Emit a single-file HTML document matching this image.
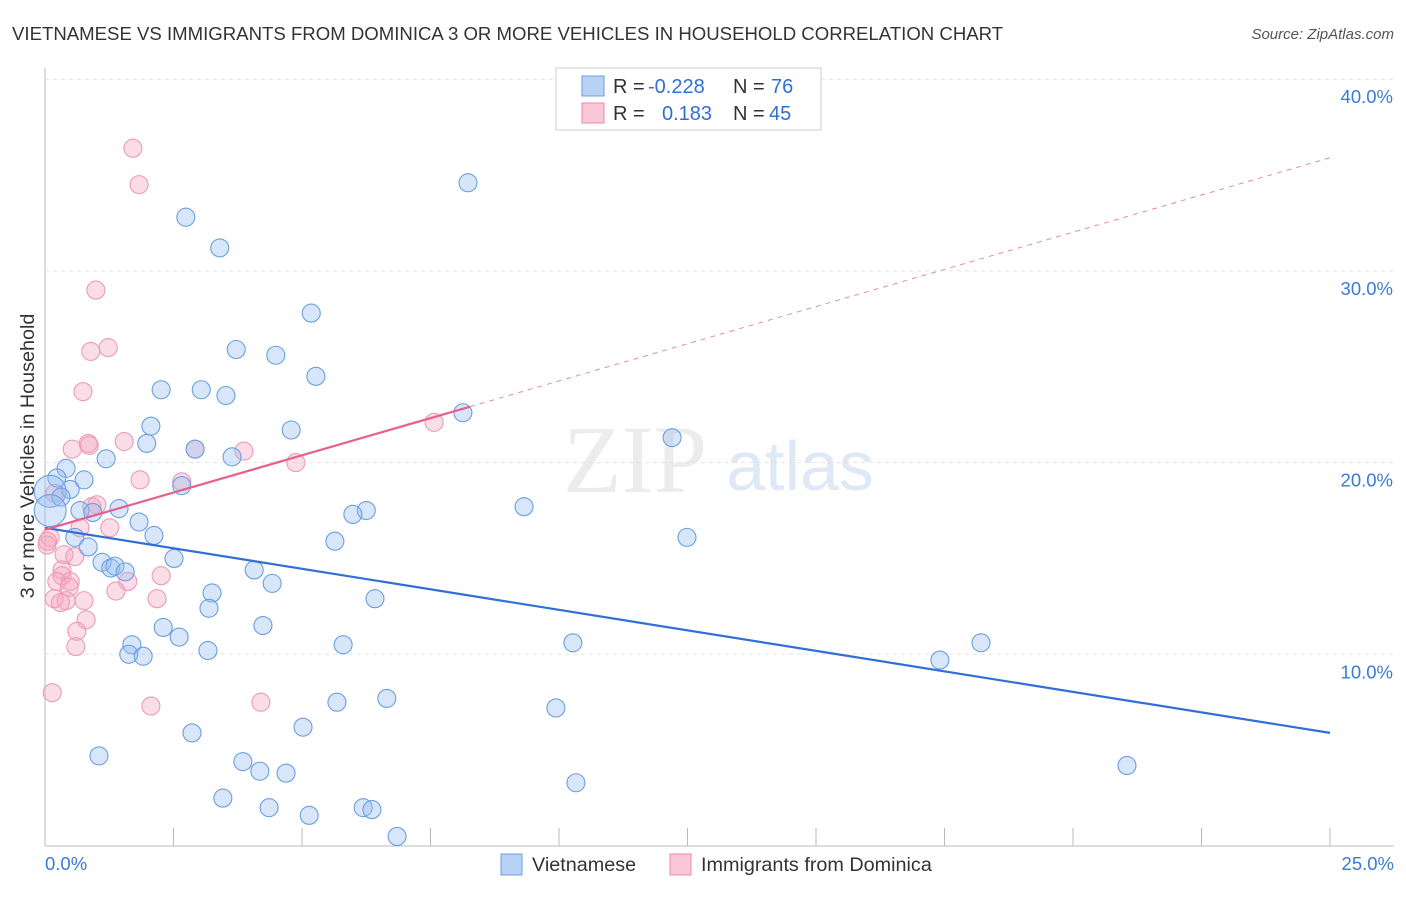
<!DOCTYPE html>
<html><head><meta charset="utf-8"><style>
body{margin:0;background:#fff;font-family:"Liberation Sans",sans-serif}
</style></head><body>
<svg id="c" width="1406" height="892" xmlns="http://www.w3.org/2000/svg">
<text x="12" y="40" font-size="18.6" fill="#333">VIETNAMESE VS IMMIGRANTS FROM DOMINICA 3 OR MORE VEHICLES IN HOUSEHOLD CORRELATION CHART</text>
<text x="1394" y="39" font-size="15" fill="#555" font-style="italic" text-anchor="end">Source: ZipAtlas.com</text>
<text x="635" y="492" font-size="96" fill="#ececec" font-family="Liberation Serif,serif" text-anchor="middle">ZIP</text>
<text x="800" y="490" font-size="70" fill="#dfe9f6" text-anchor="middle">atlas</text>
<text transform="translate(34,456) rotate(-90)" font-size="19.8" fill="#333" text-anchor="middle">3 or more Vehicles in Household</text>
<g id="grid"></g><g id="pts"></g><g id="trend"></g>
<rect x="556" y="68" width="265" height="62" fill="#fff" stroke="#ccc"/>
<rect x="582" y="76" width="22" height="20" fill="#b8d2f5" stroke="#6a9fe0"/>
<rect x="582" y="103" width="22" height="20" fill="#f9c7d7" stroke="#e88aaa"/>
<text font-size="20" fill="#333"><tspan x="613" y="93">R =</tspan><tspan x="648" fill="#2f6fd6">-0.228</tspan><tspan x="733">N =</tspan><tspan x="771" fill="#2f6fd6">76</tspan></text>
<text font-size="20" fill="#333"><tspan x="613" y="120">R =</tspan><tspan x="662" fill="#2f6fd6">0.183</tspan><tspan x="733">N =</tspan><tspan x="769" fill="#2f6fd6">45</tspan></text>
<rect x="501" y="854" width="21" height="21" fill="#b8d2f5" stroke="#6a9fe0"/>
<text x="532" y="871" font-size="19.8" fill="#333">Vietnamese</text>
<rect x="670" y="854" width="21" height="21" fill="#f9c7d7" stroke="#e88aaa"/>
<text x="701" y="871" font-size="19.8" fill="#333">Immigrants from Dominica</text>
<text x="45" y="870" font-size="18.5" fill="#3a7bd5">0.0%</text>
<text x="1394" y="870" font-size="18.5" fill="#3a7bd5" text-anchor="end">25.0%</text>
</svg>
<script>
const yTicks=[10,20,30,40];
const yTickLabels=["10.0%","20.0%","30.0%","40.0%"];
const xTicks=[0,2.5,5,7.5,10,12.5,15,17.5,20,22.5,25];
const viX=[8.23,2.74,3.40,5.18,3.72,4.49,5.27,2.26,3.04,3.52,2.06,8.13,4.79,1.98,2.92,12.2,3.64,1.19,0.41,0.23,0.76,2.66,0.49,0.1,0.31,0.1,9.32,0.68,0.93,1.44,6.25,5.99,1.83,2.12,0.58,12.49,0.84,5.64,2.51,1.11,1.28,1.36,1.56,4.07,4.42,3.25,6.42,3.19,2.30,4.24,2.61,1.69,5.80,10.27,1.63,1.91,3.17,18.21,17.41,6.65,5.68,9.94,2.86,5.02,1.05,3.85,4.18,4.69,21.05,10.33,3.46,4.36,6.19,6.36,5.14,6.85];
const viY=[34.6,32.8,31.2,27.8,25.9,25.6,24.5,23.8,23.8,23.5,21.9,22.6,21.7,21.0,20.7,21.3,20.3,20.2,19.7,19.2,19.1,18.8,18.6,18.5,18.2,17.5,17.7,17.5,17.4,17.6,17.5,17.3,16.9,16.2,16.1,16.1,15.6,15.9,15.0,14.8,14.5,14.6,14.3,14.4,13.7,13.2,12.9,12.4,11.4,11.5,10.9,10.5,10.5,10.6,10.0,9.9,10.2,10.6,9.7,7.7,7.5,7.2,5.9,6.2,4.7,4.4,3.9,3.8,4.2,3.3,2.5,2.0,2.0,1.9,1.6,0.5];
const doX=[1.71,1.83,0.99,1.23,0.89,0.74,7.57,1.54,0.84,0.53,0.86,2.92,3.87,4.88,2.66,1.85,0.19,1.01,0.91,0.68,1.26,0.1,0.04,0.37,0.58,0.33,0.33,2.26,0.23,0.49,0.47,1.61,1.38,0.18,0.76,2.18,0.41,0.80,0.62,0.60,0.14,2.06,4.20,0.05,0.3];
const doY=[36.4,34.5,29.0,26.0,25.8,23.7,22.1,21.1,21.0,20.7,20.9,20.7,20.6,20.0,19.0,19.1,18.4,17.8,17.7,16.6,16.6,16.1,15.7,15.2,15.1,14.4,14.1,14.1,13.8,13.8,13.5,13.8,13.3,12.9,12.8,12.9,12.8,11.8,11.2,10.4,8.0,7.3,7.5,15.9,12.7];
const viTrend=[16.6,5.9];
const doTrend=[16.5,35.9];
const doSolidEnd=8.27;
const NS="http://www.w3.org/2000/svg";
const X=v=>45+v*51.4, Y=v=>846-v*19.17;
function mk(t,a,p){const e=document.createElementNS(NS,t);for(const k in a)e.setAttribute(k,a[k]);p.appendChild(e);return e;}
const grid=document.getElementById('grid'),pts=document.getElementById('pts'),tr=document.getElementById('trend');
let ax=mk('line',{x1:45,y1:68,x2:45,y2:846,stroke:'#bbb'},grid);


let bx=mk('line',{x1:45,y1:846,x2:1394,y2:846,stroke:'#bbb'},grid);


yTicks.forEach((t,i)=>{
 const g=mk('line',{x1:45,y1:Y(t),x2:1394,y2:Y(t),stroke:'#e2e2e2','stroke-dasharray':'4,4'},grid);
 
 
 const l=mk('text',{x:1393,y:Y(t)+24,'font-size':18.5,fill:'#3a7bd5','text-anchor':'end'},grid);
 l.textContent=yTickLabels[i];
 
 
});
xTicks.forEach(t=>{
 const k=mk('line',{x1:X(t),y1:828,x2:X(t),y2:846,stroke:'#bbb'},grid);
 
 
});
function dots(xs,ys,fill,stroke,name){
 xs.forEach((x,i)=>{
  const r=(x<=0.1&&name==='vietnamese-point')?16:9;
  const c=mk('circle',{cx:X(x),cy:Y(ys[i]),r:r,fill:fill,stroke:stroke,'stroke-width':1.1},pts);
  
  
 });
}
dots(doX,doY,'rgba(244,165,192,0.38)','#ec9ab6','dominica-point');
dots(viX,viY,'rgba(150,190,238,0.38)','#6a9fe0','vietnamese-point');
let t1=mk('line',{x1:X(0),y1:Y(viTrend[0]),x2:X(25),y2:Y(viTrend[1]),stroke:'#2f6fd6','stroke-width':2.2},tr);


const pe=doTrend[0]+(doTrend[1]-doTrend[0])*doSolidEnd/25;
let t2=mk('line',{x1:X(0),y1:Y(doTrend[0]),x2:X(doSolidEnd),y2:Y(pe),stroke:'#e8608c','stroke-width':2.2},tr);


let t3=mk('line',{x1:X(doSolidEnd),y1:Y(pe),x2:X(25),y2:Y(doTrend[1]),stroke:'#e88aaa','stroke-width':1,'stroke-dasharray':'5,5'},tr);


</script>
</body></html>
